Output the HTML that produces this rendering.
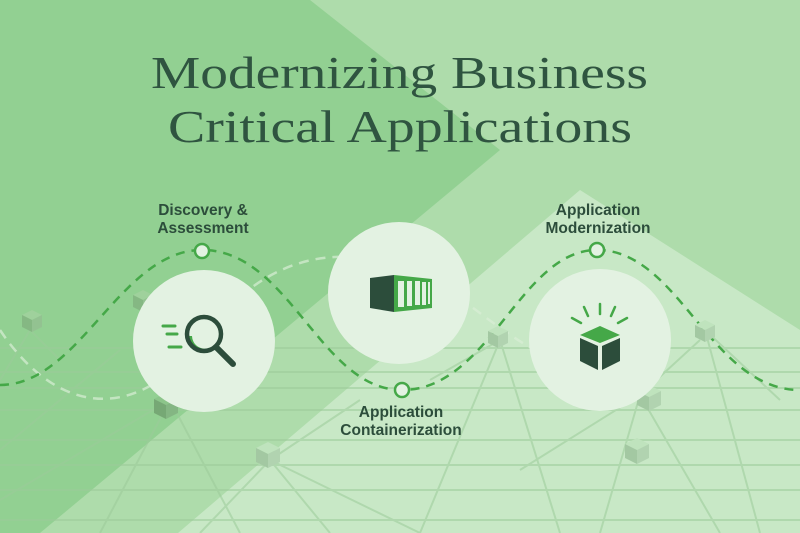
<!DOCTYPE html>
<html><head><meta charset="utf-8"><style>
html,body{margin:0;padding:0;width:800px;height:533px;overflow:hidden;background:#acdcab}
svg{display:block}
</style></head><body>
<svg width="800" height="533" viewBox="0 0 800 533" xmlns="http://www.w3.org/2000/svg">
<rect width="800" height="533" fill="#aedcab"/>
<polygon points="0,0 310,0 500,150 40,533 0,533" fill="#92d092"/>
<polygon points="580,190 800,330 800,533 178,533" fill="#c8e8c6"/>
<g stroke="#9ccb9a" stroke-width="2" fill="none" opacity="0.55">
<path d="M0,372 L800,372 M0,388 L800,388 M0,410 L800,410 M0,440 L800,440 M0,465 L800,465 M0,490 L800,490 M0,520 L800,520 M0,348 L800,348"/>
<path d="M30,330 L0,380 M30,330 L60,360 M170,400 L100,533 M170,400 L240,533 M170,400 L130,330 M270,460 L200,533 M270,460 L330,533 M270,460 L360,400 M500,340 L420,533 M500,340 L560,533 M500,340 L430,380 M640,395 L600,533 M640,395 L720,533 M640,395 L700,340 M705,330 L780,400 M705,330 L760,533 M560,300 L620,350 M120,350 L0,450 M0,500 L170,400 M270,460 L420,533 M640,395 L520,470"/>
</g>
<path d="M0,330 C60,420 140,420 200,340 S330,240 410,270 S560,420 650,330" stroke="#d8eed6" stroke-width="2.5" stroke-dasharray="10,7" fill="none" opacity="0.7"/>
<path d="M0,385 C80,385 120,250 202,250 C290,250 320,390 402,390 C490,390 520,250 597,250 C680,250 710,390 800,390" stroke="#45a848" stroke-width="2.5" stroke-dasharray="9,7" fill="none"/>
<g>
<g transform="translate(22,310)"><polygon points="10,0 20,5 10,10 0,5" fill="#9fd19c"/><polygon points="0,5 10,10 10,22 0,17" fill="#85b883"/><polygon points="20,5 10,10 10,22 20,17" fill="#93c291"/></g>
<g transform="translate(133,290)"><polygon points="10,0 20,5 10,10 0,5" fill="#9fd19c"/><polygon points="0,5 10,10 10,22 0,17" fill="#85b883"/><polygon points="20,5 10,10 10,22 20,17" fill="#93c291"/></g>
<g transform="translate(154,393)"><polygon points="12,0 24,6 12,12 0,6" fill="#8cc58a"/><polygon points="0,6 12,12 12,26 0,20" fill="#76a875"/><polygon points="24,6 12,12 12,26 24,20" fill="#84b683"/></g>
<g transform="translate(256,442)"><polygon points="12,0 24,6 12,12 0,6" fill="#bfe3bd"/><polygon points="0,6 12,12 12,26 0,20" fill="#a3c8a2"/><polygon points="24,6 12,12 12,26 24,20" fill="#b1d3b0"/></g>
<g transform="translate(488,326)"><polygon points="10,0 20,5 10,10 0,5" fill="#bfe3bd"/><polygon points="0,5 10,10 10,22 0,17" fill="#a3c8a2"/><polygon points="20,5 10,10 10,22 20,17" fill="#b1d3b0"/></g>
<g transform="translate(637,385)"><polygon points="12,0 24,6 12,12 0,6" fill="#bfe3bd"/><polygon points="0,6 12,12 12,26 0,20" fill="#a3c8a2"/><polygon points="24,6 12,12 12,26 24,20" fill="#b1d3b0"/></g>
<g transform="translate(625,438)"><polygon points="12,0 24,6 12,12 0,6" fill="#bfe3bd"/><polygon points="0,6 12,12 12,26 0,20" fill="#a3c8a2"/><polygon points="24,6 12,12 12,26 24,20" fill="#b1d3b0"/></g>
<g transform="translate(695,320)"><polygon points="10,0 20,5 10,10 0,5" fill="#bfe3bd"/><polygon points="0,5 10,10 10,22 0,17" fill="#a3c8a2"/><polygon points="20,5 10,10 10,22 20,17" fill="#b1d3b0"/></g>
</g>
<circle cx="204" cy="341" r="71" fill="#e3f2e2"/>
<circle cx="399" cy="293" r="71" fill="#e3f2e2"/>
<circle cx="600" cy="340" r="71" fill="#e3f2e2"/>
<circle cx="202" cy="251" r="7" fill="#e3f2e2" stroke="#45a848" stroke-width="2.5"/>
<circle cx="402" cy="390" r="7" fill="#e3f2e2" stroke="#45a848" stroke-width="2.5"/>
<circle cx="597" cy="250" r="7" fill="#e3f2e2" stroke="#45a848" stroke-width="2.5"/>
<g>
<path d="M163,326 h12 M167,334 h10 M169,347 h12" stroke="#45a848" stroke-width="3" stroke-linecap="round"/>
<path d="M190,336 a15,15 0 0 0 22,13" stroke="#45a848" stroke-width="4" fill="none"/>
<circle cx="204" cy="334" r="17" fill="none" stroke="#2c4d3b" stroke-width="4.5"/>
<line x1="216" y1="347" x2="233" y2="364" stroke="#2c4d3b" stroke-width="6" stroke-linecap="round"/>
</g>
<g>
<polygon points="370,278 394,275 394,312 370,308" fill="#2c4d3b"/>
<polygon points="394,275 432,279 432,308 394,312" fill="#45a848"/>
<g fill="#e3f2e2"><rect x="398" y="281" width="6" height="26"/><rect x="407" y="281" width="5" height="25"/><rect x="415" y="281" width="5" height="24"/><rect x="422" y="282" width="4" height="23"/><rect x="428" y="282" width="2" height="22"/></g>
</g>
<g>
<path d="M581,323 l-9,-5 M588,316 l-4,-9 M600,314 v-10 M611,316 l4,-9 M618,323 l9,-5" stroke="#45a848" stroke-width="2.5" stroke-linecap="round"/>
<polygon points="600,326 620,335 600,343 580,335" fill="#45a848"/>
<polygon points="580,338 598,346 598,370 580,361" fill="#2c4d3b"/>
<polygon points="620,338 602,346 602,370 620,361" fill="#2c4d3b"/>
</g>
<g font-family="Liberation Sans, sans-serif" font-weight="bold" font-size="15.5" fill="#2c4d3b" text-anchor="middle">
<text x="203" y="215">Discovery &amp;</text>
<text x="203" y="233">Assessment</text>
<text x="598" y="215">Application</text>
<text x="598" y="233">Modernization</text>
<text x="401" y="417">Application</text>
<text x="401" y="435">Containerization</text>
</g>
<g font-family="Liberation Serif, serif" font-size="46" fill="#2f5440">
<text x="151" y="88" textLength="497" lengthAdjust="spacingAndGlyphs">Modernizing Business</text>
<text x="168" y="142" textLength="464" lengthAdjust="spacingAndGlyphs">Critical Applications</text>
</g>
</svg>
</body></html>
